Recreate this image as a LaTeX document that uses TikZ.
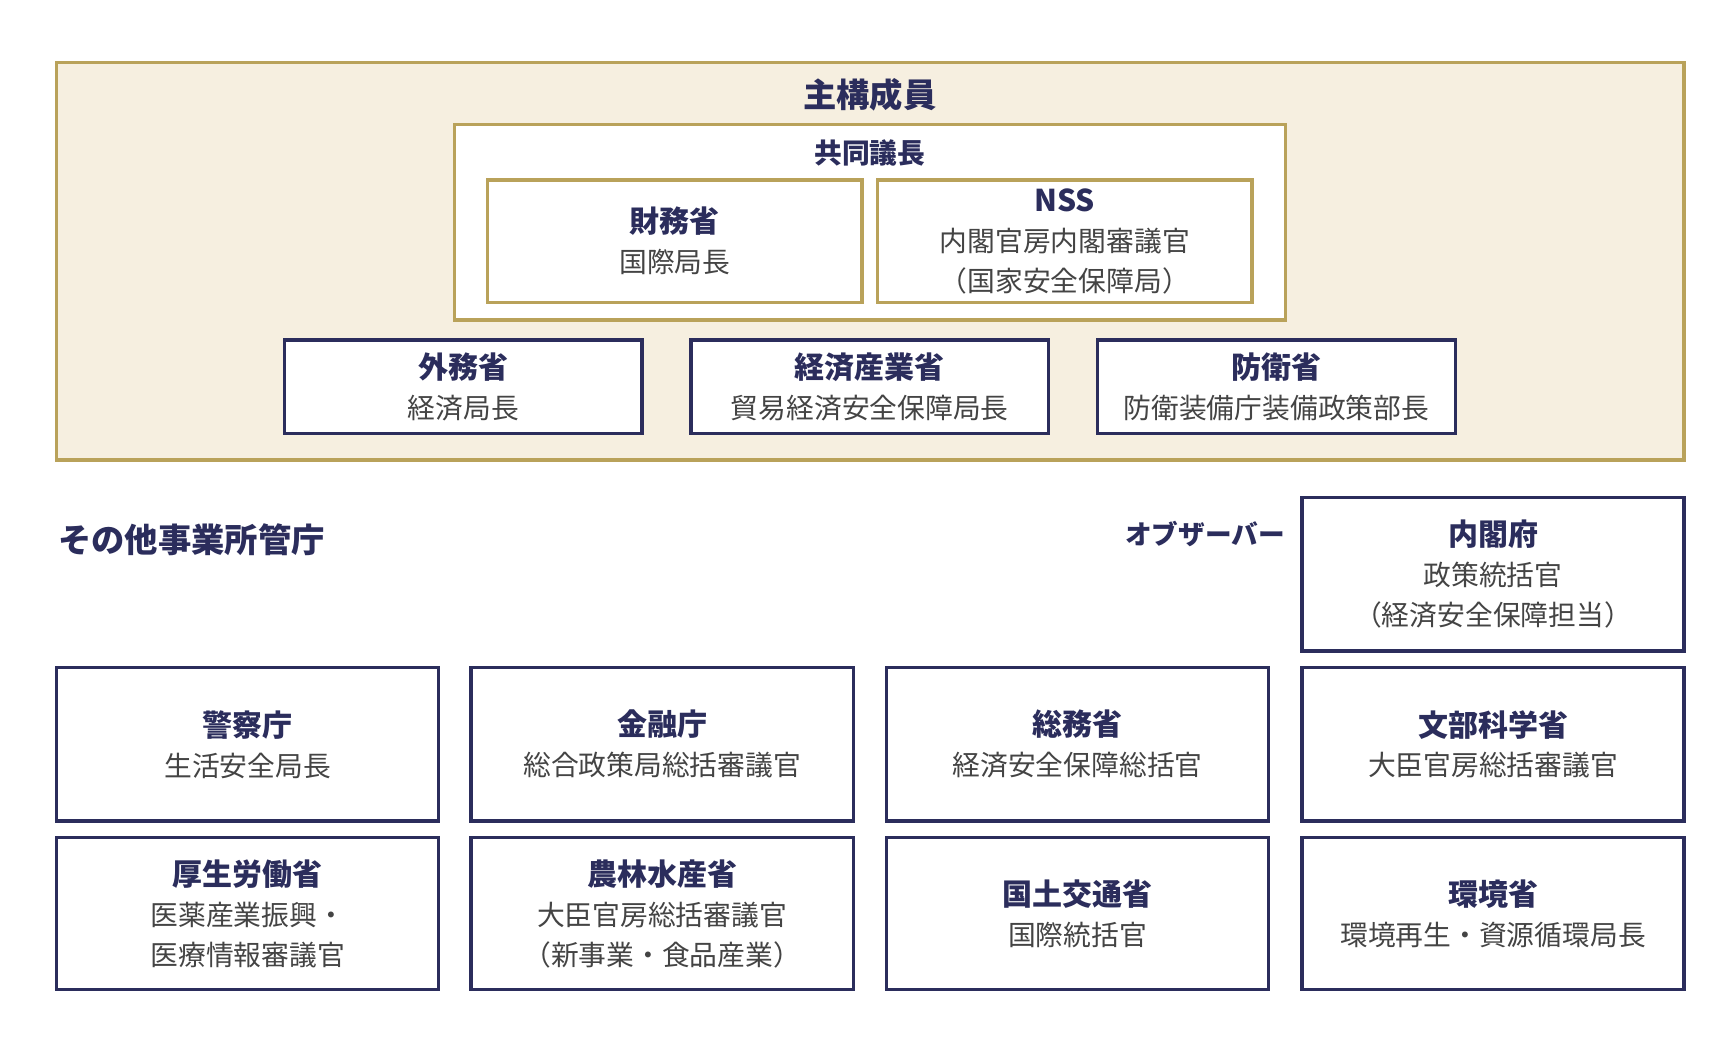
\documentclass[tikz,border=0pt]{standalone}
\usepackage{fontspec}
\setmainfont{Noto Sans CJK JP}
\definecolor{navy}{HTML}{2B2D5C}
\definecolor{gold}{HTML}{B9A25A}
\definecolor{beige}{HTML}{F6EFE0}
\definecolor{txt}{HTML}{444444}
\newcommand{\myhd}[1]{{\bfseries\fontsize{13.5}{18}\selectfont\color{navy}#1}}
\newcommand{\mysb}[1]{{\fontsize{12.5}{18}\selectfont\color{txt}#1}}
\begin{document}
\begin{tikzpicture}[x=0.5pt,y=-0.5pt,
  nb/.style={draw=navy,line width=1.5pt,fill=white},
  gb/.style={draw=gold,line width=1.5pt,fill=white},
  lab/.style={align=center,inner sep=0pt,font=\fontsize{12.5}{18}\selectfont}]
\useasboundingbox (0,0) rectangle (1560,938);
\newcommand{\bx}[7]{\draw[#6] (#2,#3) rectangle (#4,#5);
  \node[lab] (#1) at ({(#2+#4)/2},{(#3+#5)/2}) {#7};}
\draw[draw=gold,line width=1.5pt,fill=beige] (51,56) rectangle (1516,414);
\node[lab] (main) at (783,85) {\bfseries\fontsize{15}{18}\selectfont\color{navy}主構成員};
\draw[gb] (409,112) rectangle (1157,288);
\node[lab] (co) at (783,138) {\bfseries\fontsize{12.5}{18}\selectfont\color{navy}共同議長};
\bx{mof}{439}{162}{776}{272}{gb}{\myhd{財務省}\\\mysb{国際局長}}
\bx{nss}{790}{162}{1127}{272}{gb}{\myhd{NSS}\\\mysb{内閣官房内閣審議官}\\\mysb{（国家安全保障局）}}
\bx{mofa}{256}{306}{578}{390}{nb}{\myhd{外務省}\\\mysb{経済局長}}
\bx{meti}{622}{306}{944}{390}{nb}{\myhd{経済産業省}\\\mysb{貿易経済安全保障局長}}
\bx{mod}{988}{306}{1310}{390}{nb}{\myhd{防衛省}\\\mysb{防衛装備庁装備政策部長}}
\node[anchor=west,inner sep=0pt] (other) at (52,486) {\bfseries\fontsize{15}{18}\selectfont\color{navy}その他事業所管庁};
\node[anchor=east,inner sep=0pt] (obs) at (1157,481) {\bfseries\fontsize{12}{18}\selectfont\color{navy}オブザーバー};
\bx{cao}{1172}{448}{1516}{586}{nb}{\myhd{内閣府}\\\mysb{政策統括官}\\\mysb{（経済安全保障担当）}}
\bx{npa}{51}{601}{395}{739}{nb}{\myhd{警察庁}\\\mysb{生活安全局長}}
\bx{fsa}{424}{601}{768}{739}{nb}{\myhd{金融庁}\\\mysb{総合政策局総括審議官}}
\bx{mic}{798}{601}{1142}{739}{nb}{\myhd{総務省}\\\mysb{経済安全保障総括官}}
\bx{mext}{1172}{601}{1516}{739}{nb}{\myhd{文部科学省}\\\mysb{大臣官房総括審議官}}
\bx{mhlw}{51}{754}{395}{891}{nb}{\myhd{厚生労働省}\\\mysb{医薬産業振興・}\\\mysb{医療情報審議官}}
\bx{maff}{424}{754}{768}{891}{nb}{\myhd{農林水産省}\\\mysb{大臣官房総括審議官}\\\mysb{（新事業・食品産業）}}
\bx{mlit}{798}{754}{1142}{891}{nb}{\myhd{国土交通省}\\\mysb{国際統括官}}
\bx{moe}{1172}{754}{1516}{891}{nb}{\myhd{環境省}\\\mysb{環境再生・資源循環局長}}
\end{tikzpicture}
\end{document}
